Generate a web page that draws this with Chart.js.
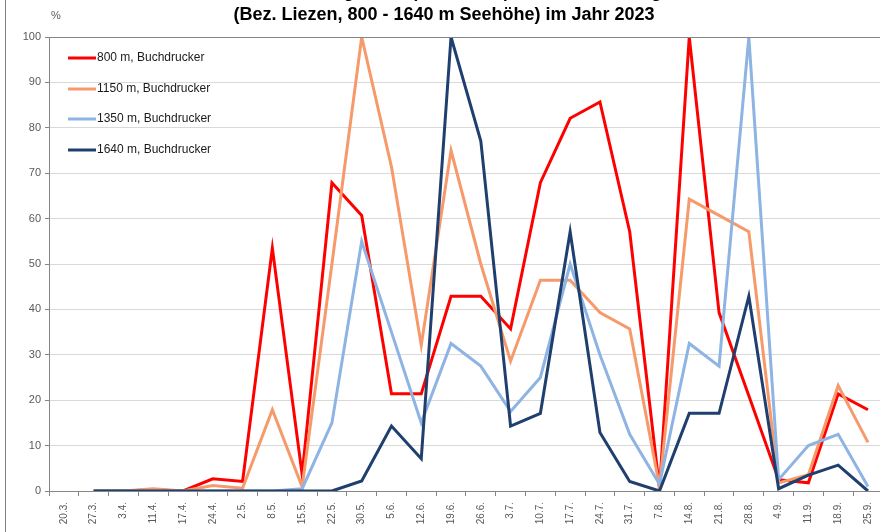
<!DOCTYPE html>
<html>
<head>
<meta charset="utf-8">
<script src="https://cdn.jsdelivr.net/npm/chart.js@4.4.1/dist/chart.umd.min.js"></script>
<style>
  html, body { margin: 0; padding: 0; background: #fff; overflow: hidden; }
  #wrap { position: relative; width: 886px; height: 532px; }
</style>
</head>
<body>
<div id="wrap"><canvas id="fangChart" width="886" height="532"></canvas></div>
<script>
// Termine (Kontrolltage)
const dates = ['20.3.', '27.3.', '3.4.', '11.4.', '17.4.', '24.4.', '2.5.', '8.5.', '15.5.', '22.5.',
    '30.5.', '5.6.', '12.6.', '19.6.', '26.6.', '3.7.', '10.7.', '17.7.', '24.7.', '31.7.',
    '7.8.', '14.8.', '21.8.', '28.8.', '4.9.', '11.9.', '18.9.', '25.9.'];

// relative Fangzahlen in %
const m800 = [null, 0, 0, 0.3, 0, 2.7, 2.1, 53.5, 3.6, 67.9, 60.7, 21.4, 21.4, 42.9, 42.9, 35.7, 67.9, 82.1, 85.7, 57.1, 0.5, 100, 39.3, 21, 2.5, 1.8, 21.4, 17.9];
const m1150 = [null, 0, 0, 0.5, 0, 1.2, 0.6, 17.9, 0.9, 50, 100, 71.4, 32.1, 75, 50, 28.6, 46.4, 46.4, 39.3, 35.7, 1, 64.3, 60.7, 57.1, 1.8, 3.6, 23.2, 10.7];
const m1350 = [null, 0, 0, 0, 0, 0, 0, 0, 0.5, 15, 55, 35, 15, 32.5, 27.5, 17.5, 25, 50, 30, 12.5, 1.5, 32.5, 27.5, 100, 2.5, 10, 12.5, 1];
const m1640 = [null, 0, 0, 0, 0, 0, 0, 0, 0, 0, 2.2, 14.3, 7.1, 100, 77.1, 14.3, 17.1, 57.1, 12.9, 2.1, 0, 17.1, 17.1, 42.9, 0.5, 3.5, 5.7, 0];

const seriesNames = ['800 m, Buchdrucker', '1150 m, Buchdrucker', '1350 m, Buchdrucker', '1640 m, Buchdrucker'];
const seriesColors = ['#ff0000', '#f79a6b', '#8eb4e3', '#1f3f6e'];
const titleLines = ['Relative Buchdrucker-Fangzahlen (max. = 100) an den Monitoring-Standorten',
    '(Bez. Liezen, 800 - 1640 m Seehöhe) im Jahr 2023'];

const font = 'Arial, "Liberation Sans", sans-serif';

// Titel, %-Zeichen, Rahmen und Legende selbst zeichnen
const extras = {
    id: 'extras',
    afterDraw(chart) {
        const ctx = chart.ctx;
        const area = chart.chartArea;
        ctx.save();
        // Rahmen links
        ctx.strokeStyle = '#7f7f7f';
        ctx.lineWidth = 1;
        ctx.beginPath();
        ctx.moveTo(5.5, 0);
        ctx.lineTo(5.5, 532);
        ctx.stroke();
        // obere Linie der Zeichenfläche
        ctx.strokeStyle = '#868686';
        ctx.beginPath();
        ctx.moveTo(area.left, area.top + 0.5);
        ctx.lineTo(area.right, area.top + 0.5);
        ctx.stroke();

        ctx.fillStyle = '#000';
        ctx.textAlign = 'center';
        ctx.textBaseline = 'middle';
        ctx.font = 'bold 17px ' + font;
        ctx.fillText(titleLines[0], 445, -7);
        ctx.font = 'bold 18px ' + font;
        ctx.fillText(titleLines[1], 444, 15);

        ctx.font = '11px ' + font;
        ctx.fillStyle = '#595959';
        ctx.fillText('%', 56, 16);

        // Legende
        ctx.textAlign = 'left';
        ctx.font = '12px ' + font;
        const ys = [58, 89, 119, 150];
        seriesNames.forEach((name, i) => {
            ctx.strokeStyle = seriesColors[i];
            ctx.lineWidth = 3;
            ctx.beginPath();
            ctx.moveTo(68, ys[i]);
            ctx.lineTo(96, ys[i]);
            ctx.stroke();
            ctx.fillStyle = '#1a1a1a';
            ctx.fillText(name, 97, ys[i]);
        });
        ctx.restore();
    }
};

const allData = [m800, m1150, m1350, m1640];

const ctx = document.getElementById('fangChart').getContext('2d');
const fangChart = new Chart(ctx, {
    type: 'line',
    data: {
        labels: dates,
        datasets: allData.map((d, i) => ({
            label: seriesNames[i],
            data: d,
            borderColor: seriesColors[i],
            backgroundColor: seriesColors[i],
            borderWidth: 3,
            pointRadius: 0,
            tension: 0,
            fill: false,
            order: 3 - i
        }))
    },
    options: {
        responsive: false,
        animation: false,
        layout: { padding: { top: 37, left: 0, right: 2.6, bottom: 0 } },
        plugins: {
            legend: { display: false },
            title: { display: false },
            tooltip: { enabled: false }
        },
        scales: {
            x: {
                type: 'category',
                offset: true,
                afterFit: s => { s.height = 41; },
                grid: {
                    drawOnChartArea: false,
                    offset: true,
                    tickLength: 5,
                    tickColor: '#868686'
                },
                border: { color: '#868686', width: 1 },
                ticks: {
                    autoSkip: false,
                    minRotation: 90,
                    maxRotation: 90,
                    padding: 6,
                    color: '#595959',
                    font: { family: font, size: 10 }
                }
            },
            y: {
                min: 0,
                max: 100,
                afterFit: s => { s.width = 49; },
                grid: {
                    color: '#d9d9d9',
                    tickLength: 4,
                    tickColor: '#868686'
                },
                border: { color: '#868686', width: 1 },
                ticks: {
                    stepSize: 10,
                    padding: 4,
                    color: '#595959',
                    font: { family: font, size: 11 }
                }
            }
        }
    },
    plugins: [extras]
});
</script>
</body>
</html>
